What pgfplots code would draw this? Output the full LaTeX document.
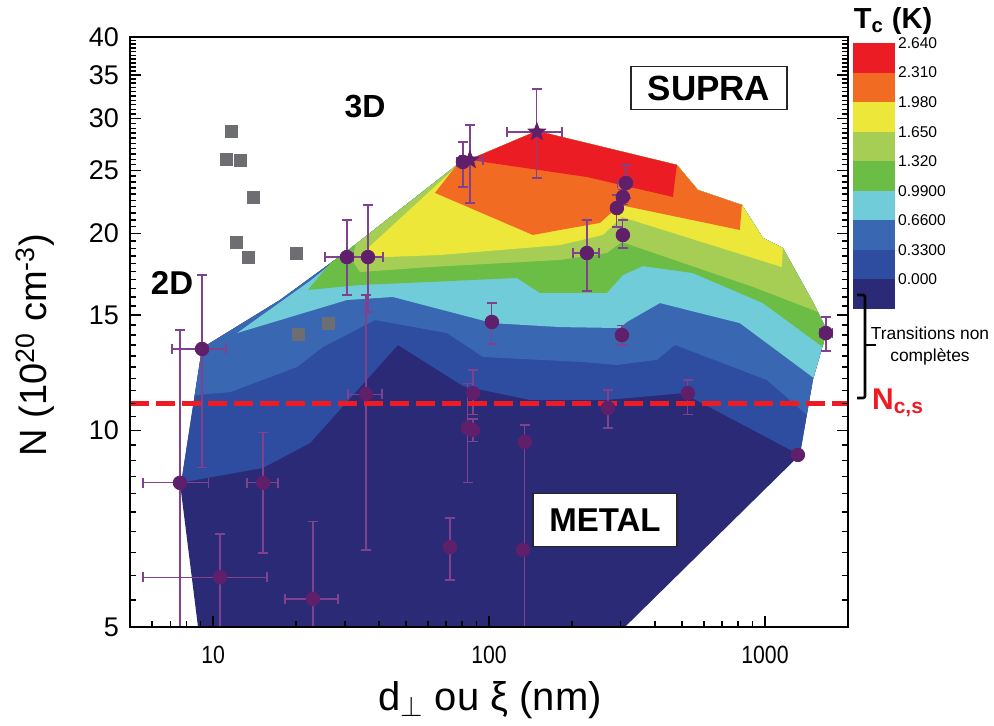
\documentclass[border=0pt]{standalone}
\usepackage{fontspec}
\setmainfont{Liberation Sans}
\usepackage{graphicx}
\usepackage{pgfplots}
\usepackage{pgfplotstable}
\pgfplotsset{compat=1.18}
\definecolor{cnavy}{RGB}{43,42,118}
\definecolor{cbA}{RGB}{46,77,160}
\definecolor{cbB}{RGB}{58,103,177}
\definecolor{ccyan}{RGB}{112,204,216}
\definecolor{cgreen}{RGB}{107,189,69}
\definecolor{clgreen}{RGB}{166,206,85}
\definecolor{cyellow}{RGB}{237,231,58}
\definecolor{corange}{RGB}{242,107,34}
\definecolor{cred}{RGB}{236,28,36}
\definecolor{ptcol}{RGB}{95,31,106}
\definecolor{errcol}{RGB}{128,66,143}
\definecolor{sqgray}{RGB}{109,110,113}
\definecolor{dashred}{RGB}{237,28,36}

\pgfdeclareplotmark{fstar}{%
  \pgfpathmoveto{\pgfpointpolar{90}{\pgfplotmarksize}}%
  \pgfpathlineto{\pgfpointpolar{126}{0.42\pgfplotmarksize}}%
  \pgfpathlineto{\pgfpointpolar{162}{\pgfplotmarksize}}%
  \pgfpathlineto{\pgfpointpolar{198}{0.42\pgfplotmarksize}}%
  \pgfpathlineto{\pgfpointpolar{234}{\pgfplotmarksize}}%
  \pgfpathlineto{\pgfpointpolar{270}{0.42\pgfplotmarksize}}%
  \pgfpathlineto{\pgfpointpolar{306}{\pgfplotmarksize}}%
  \pgfpathlineto{\pgfpointpolar{342}{0.42\pgfplotmarksize}}%
  \pgfpathlineto{\pgfpointpolar{18}{\pgfplotmarksize}}%
  \pgfpathlineto{\pgfpointpolar{54}{0.42\pgfplotmarksize}}%
  \pgfpathclose\pgfusepathqfillstroke}

% measured samples: x, y, errors (plus / minus)
\pgfplotstableread{
x y xp xm yp ym
7.59 8.31 2.03 2.02 5.93 4.3
9.12 13.32 2.02 2.02 3.97 4.56
10.6 5.96 5.08 5.03 0.98 1.5
15.17 8.31 2.02 1.9 1.6 1.82
23.01 5.52 5.34 4.79 1.74 1.0
30.56 18.42 5.86 5.12 2.57 2.31
36.42 18.42 4.86 4.2 3.71 3.24
35.82 11.36 5.1 5.0 4.75 4.8
80.43 25.75 3.4 3.9 1.88 2.17
102.4 14.65 3 3 1.01 1.09
87.44 11.40 3 3 0.97 0.84
83.84 10.08 2 2 1.73 1.77
87.44 10.01 2 2 0.4 0.4
72.17 6.63 2 2 0.71 0.73
134.9 9.60 1 1 0.59 5.1
226.4 18.68 23.8 25 2.31 2.34
313.4 23.91 18.8 20.3 1.57 1.23
305.6 22.76 6 6 0.6 0.6
290.7 21.89 5 5 1.03 1.41
305.6 19.91 5 5 1.08 0.9
303.1 13.99 5 5 0.5 0.48
269.7 10.82 10 10 0.71 0.74
525.6 11.40 15 15 0.54 0.84
1663 14.09 99 82 0.82 0.86
}\ptsdata
\pgfplotstableread{
x y xp xm yp ym
85.27 25.93 9.77 6.84 3.4 3.65
149.1 28.62 34.7 33 4.68 4.28
}\stardata

\begin{document}
\begin{tikzpicture}
\useasboundingbox (-65pt,-49.5pt) rectangle (432pt,313.5pt);
\begin{axis}[at={(0pt,0pt)}, anchor=south west, scale only axis,
  width=359pt, height=295pt,
  xmode=log, ymode=log, xmin=5, xmax=2000, ymin=5, ymax=40,
  axis on top,
  xtick={10,100,1000},
  xticklabels={\scalebox{0.85}[1]{10},\scalebox{0.85}[1]{100},\scalebox{0.85}[1]{1000}},
  ytick={5,10,15,20,25,30,35,40},
  yticklabels={5,10,15,20,25,30,35,40},
  xtick pos=left,
  axis line style={line width=1.2pt},
  xtick style={black, line width=0.8pt},
  ytick style={black, line width=0.8pt},
  xticklabel style={font=\fontsize{12.5}{12.5}\selectfont, yshift=-6pt},
  yticklabel style={font=\fontsize{13.5}{13.5}\selectfont, xshift=-2pt},
]
% contour levels (nested, painted from lowest to highest)
\addplot[fill=cnavy, draw=none] coordinates {(8.82,5.00) (7.59,8.31) (7.72,8.48) (9.12,13.37) (17.48,15.83) (30.56,18.81) (76.50,25.48) (149.1,28.72) (479.6,25.48) (571.4,23.33) (824.8,22.13) (982.7,19.70) (1161,19.01) (1491,15.72) (1676,14.24) (1621,13.51) (1491,11.94) (1338,9.17) (310.8,5.00)} --cycle;
\addplot[fill=cbA, draw=none] coordinates {(7.59,8.31) (7.72,8.48) (9.12,13.37) (17.48,15.83) (30.56,18.81) (76.50,25.48) (149.1,28.72) (479.6,25.48) (571.4,23.33) (824.8,22.13) (982.7,19.70) (1161,19.01) (1491,15.72) (1676,14.24) (1621,13.51) (1491,11.94) (1338,9.17) (504.2,11.40) (267.4,11.13) (140.7,11.13) (80.43,11.69) (46.77,13.51) (22.45,9.56) (15.17,8.76)} --cycle;
\addplot[fill=cbB, draw=none] coordinates {(8.58,11.32) (9.12,13.37) (17.48,15.83) (30.56,18.81) (76.50,25.48) (149.1,28.72) (479.6,25.48) (571.4,23.33) (824.8,22.13) (982.7,19.70) (1161,19.01) (1491,15.72) (1676,14.24) (1621,13.51) (1491,11.94) (1418,10.56) (1016,11.94) (471.7,13.51) (405.9,12.82) (290.7,12.59) (213.5,12.73) (109.5,12.91) (95.04,12.95) (70.39,14.09) (38.61,14.75) (25.02,13.41) (20.14,12.50) (11.52,11.44)} --cycle;
\addplot[fill=ccyan, draw=none] coordinates {(12.21,14.09) (22.45,16.93) (30.56,18.81) (76.50,25.48) (149.1,28.72) (479.6,25.48) (571.4,23.33) (824.8,22.13) (982.7,19.70) (1161,19.01) (1491,15.72) (1676,14.24) (1621,13.51) (1500,12.03) (811.1,14.59) (416.2,15.66) (316.0,14.65) (298.1,14.34) (180.7,14.39) (103.3,14.59) (44.87,16.00) (30.56,15.83)} --cycle;
\addplot[fill=cgreen, draw=none] coordinates {(22.07,16.40) (26.52,18.01) (30.56,18.81) (76.50,25.48) (149.1,28.72) (479.6,25.48) (571.4,23.33) (824.8,22.13) (982.7,19.70) (1161,19.01) (1491,15.72) (1676,14.24) (1621,13.41) (982.7,15.66) (548.1,17.41) (361.1,17.84) (305.6,17.29) (267.4,16.23) (152.9,16.23) (126.2,17.11) (61.09,16.87) (34.07,16.69)} --cycle;
\addplot[fill=clgreen, draw=none] coordinates {(31.87,18.23) (32.95,19.28) (76.50,25.48) (149.1,28.72) (479.6,25.48) (571.4,23.33) (824.8,22.13) (982.7,19.70) (1161,19.01) (1491,15.72) (1555,15.18) (904.2,16.58) (303.1,19.42) (267.4,18.68) (180.7,18.23) (61.09,17.78) (34.07,17.47)} --cycle;
\addplot[fill=cyellow, draw=none] coordinates {(33.23,18.35) (73.39,24.95) (76.50,25.48) (149.1,28.72) (479.6,25.48) (571.4,23.33) (824.8,22.13) (982.7,19.70) (1161,19.01) (1151,17.78) (303.1,21.21) (258.7,19.91) (180.7,19.21) (66.40,18.55)} --cycle;
\addplot[fill=corange, draw=none] coordinates {(63.68,23.09) (76.50,25.48) (149.1,28.72) (479.6,25.48) (571.4,23.33) (824.8,22.13) (811.1,20.26) (298.1,22.13) (252.3,20.77) (180.7,20.26) (144.2,19.91)} --cycle;
\addplot[fill=cred, draw=none] coordinates {(86.71,26.06) (149.1,28.72) (479.6,25.48) (463.9,22.76) (226.4,24.42) (90.4,25.84)} --cycle;
% grey squares
\addplot[only marks, color=sqgray, mark=square*, mark size=3pt, mark options={fill=sqgray, draw=sqgray, line width=0pt}] coordinates {(11.71,28.62) (11.23,25.93) (12.52,25.84) (14.07,22.68) (12.11,19.42) (13.49,18.42) (20.14,18.68) (20.48,14.04) (26.30,14.59)};
% samples with error bars
\addplot[only marks, mark=*, mark size=3.4pt, mark options={fill=ptcol, draw=ptcol},
  error bars/.cd, x dir=both, x explicit, y dir=both, y explicit,
  error bar style={line width=0.6pt, errcol},
  error mark options={rotate=90, line width=0.6pt, mark size=2.6pt, errcol}]
  table[x=x, y=y, x error plus=xp, x error minus=xm, y error plus=yp, y error minus=ym] {\ptsdata};
\addplot[only marks, mark=fstar, mark size=4.6pt, mark options={fill=ptcol, draw=ptcol},
  error bars/.cd, x dir=both, x explicit, y dir=both, y explicit,
  error bar style={line width=0.6pt, errcol},
  error mark options={rotate=90, line width=0.6pt, mark size=2.6pt, errcol}]
  table[x=x, y=y, x error plus=xp, x error minus=xm, y error plus=yp, y error minus=ym] {\stardata};
\addplot[only marks, mark=*, mark size=3.4pt, mark options={fill=ptcol, draw=ptcol}] coordinates {(132.7,6.56) (1316,9.17)};
% critical concentration
\addplot[dashred, line width=2.6pt, dash pattern=on 9.5pt off 3.5pt] coordinates {(5,11) (2000,11)};
% axis tick marks (left, right and bottom edges)
\pgfplotsinvokeforeach{10,15,20,25,30,35}{
  \draw[black, line width=0.8pt] (axis cs:5,#1) -- ++(5.5pt,0pt);
  \draw[black, line width=0.8pt] (axis cs:2000,#1) -- ++(-5.5pt,0pt);
}
\pgfplotsinvokeforeach{5.5,6,6.5,7,7.5,8,8.5,9,9.5,10.5,11,11.5,12,12.5,13,13.5,14,14.5,15.5,16,16.5,17,17.5,18,18.5,19,19.5,20.5,21,21.5,22,22.5,23,23.5,24,24.5,25.5,26,26.5,27,27.5,28,28.5,29,29.5,30.5,31,31.5,32,32.5,33,33.5,34,34.5,35.5,36,36.5,37,37.5,38,38.5,39,39.5}{
  \draw[black, line width=0.7pt] (axis cs:5,#1) -- ++(2.8pt,0pt);
  \draw[black, line width=0.7pt] (axis cs:2000,#1) -- ++(-2.8pt,0pt);
}
\pgfplotsinvokeforeach{10,100,1000}{
  \draw[black, line width=0.8pt] (axis cs:#1,5) -- ++(0pt,5.5pt);
}
\pgfplotsinvokeforeach{6,7,8,9,20,30,40,50,60,70,80,90,200,300,400,500,600,700,800,900}{
  \draw[black, line width=0.7pt] (axis cs:#1,5) -- ++(0pt,2.8pt);
}
\end{axis}

% colour bar
\begin{axis}[at={(361.5pt,159pt)}, anchor=south west, scale only axis,
  width=21pt, height=133pt, xmin=0, xmax=1, ymin=-0.33, ymax=2.64,
  axis line style={draw=none}, xtick=\empty,
  ytick={0,0.33,0.66,0.99,1.32,1.65,1.98,2.31,2.64},
  yticklabels={0.000,0.3300,0.6600,0.9900,1.320,1.650,1.980,2.310,2.640},
  yticklabel pos=right, ytick style={draw=none},
  yticklabel style={font=\fontsize{7.8}{8}\selectfont, anchor=west, xshift=-2pt}]
\addplot[fill=cnavy, draw=none] coordinates {(0,-0.33) (1,-0.33) (1,0) (0,0)} --cycle;
\addplot[fill=cbA, draw=none] coordinates {(0,0) (1,0) (1,0.33) (0,0.33)} --cycle;
\addplot[fill=cbB, draw=none] coordinates {(0,0.33) (1,0.33) (1,0.66) (0,0.66)} --cycle;
\addplot[fill=ccyan, draw=none] coordinates {(0,0.66) (1,0.66) (1,0.99) (0,0.99)} --cycle;
\addplot[fill=cgreen, draw=none] coordinates {(0,0.99) (1,0.99) (1,1.32) (0,1.32)} --cycle;
\addplot[fill=clgreen, draw=none] coordinates {(0,1.32) (1,1.32) (1,1.65) (0,1.65)} --cycle;
\addplot[fill=cyellow, draw=none] coordinates {(0,1.65) (1,1.65) (1,1.98) (0,1.98)} --cycle;
\addplot[fill=corange, draw=none] coordinates {(0,1.98) (1,1.98) (1,2.31) (0,2.31)} --cycle;
\addplot[fill=cred, draw=none] coordinates {(0,2.31) (1,2.31) (1,2.64) (0,2.64)} --cycle;
\end{axis}

% annotations
\node[font=\bfseries\fontsize{14.5}{14.5}\selectfont] at (381.5pt,303pt) {T\textsubscript{c} (K)};
\node[rotate=90, font=\fontsize{19}{19}\selectfont] at (-47.5pt,141pt) {N (10\textsuperscript{20} cm\textsuperscript{-3})};
\node[font=\fontsize{20}{20}\selectfont] at (180pt,-36.5pt) {d\textsubscript{$\perp$} ou ξ (nm)};
\node[draw=black!85, line width=0.8pt, fill=white, minimum width=78pt, minimum height=21.5pt, inner sep=0pt, font=\bfseries\fontsize{17.5}{17.5}\selectfont] at (289.5pt,269.5pt) {SUPRA};
\node[draw=black!85, line width=0.8pt, fill=white, minimum width=72pt, minimum height=26.5pt, inner sep=0pt, font=\bfseries\fontsize{16.5}{16.5}\selectfont] at (237.5pt,53.5pt) {METAL};
\node[font=\bfseries\fontsize{16}{16}\selectfont] at (117.5pt,260pt) {3D};
\node[font=\bfseries\fontsize{16.5}{16.5}\selectfont] at (21pt,172pt) {2D};
\draw[line width=1.3pt, rounded corners=1pt] (363.5pt,166pt) -- (367.5pt,166pt) -- (367.5pt,114.5pt) -- (363.5pt,114.5pt);
\draw[line width=1.3pt] (367.5pt,141pt) -- (373pt,141pt);
\node[font=\fontsize{8.7}{11}\selectfont, align=center] at (400pt,140.5pt) {Transitions non\\complètes};
\node[text=dashred, font=\bfseries\fontsize{15}{15}\selectfont] at (384pt,112pt) {N\textsubscript{c,s}};
\end{tikzpicture}
\end{document}
